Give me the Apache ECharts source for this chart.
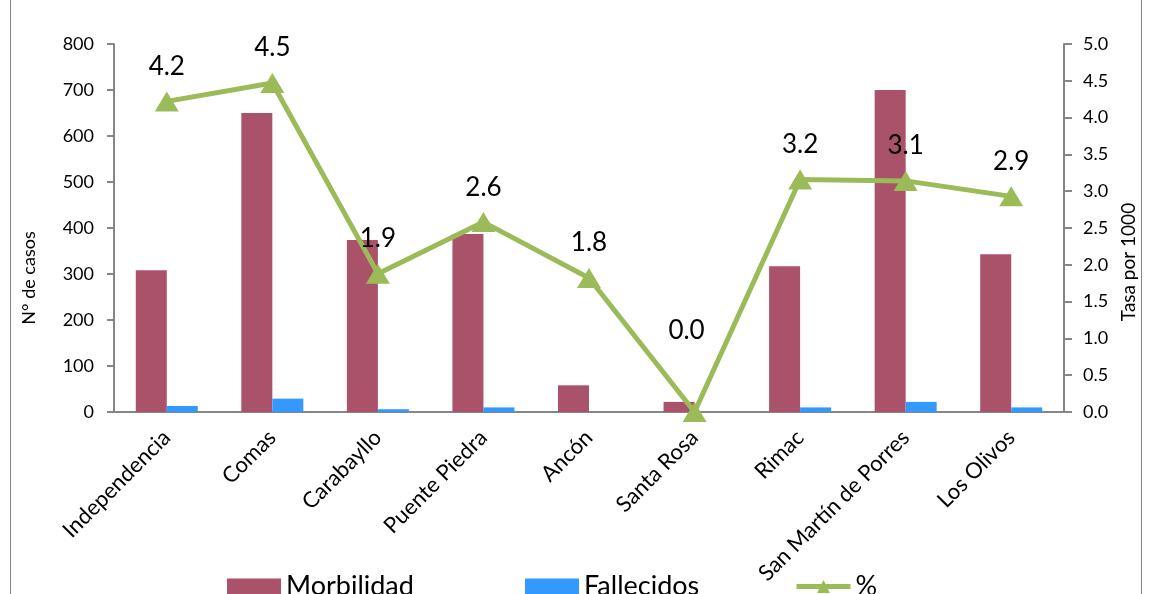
<!DOCTYPE html>
<html>
<head>
<meta charset="utf-8">
<script src="https://cdn.jsdelivr.net/npm/echarts@6/dist/echarts.min.js"></script>
<style>
  html, body { margin: 0; padding: 0; background: #fff; }
  #main { width: 1152px; height: 594px; }
</style>
</head>
<body>
<div id="main"></div>
<script>
// datos
var distritos = ["Independencia", "Comas", "Carabayllo", "Puente Piedra", "Ancón",
  "Santa Rosa", "Rimac", "San Martín de Porres", "Los Olivos"];
var morbilidad = [308, 650, 374, 387, 58, 22, 317, 700, 343];
var fallecidos = [13, 29, 6, 10, 0, 0, 10, 22, 10];
var tasa = [4.22, 4.47, 1.88, 2.58, 1.82, 0.0, 3.16, 3.14, 2.93];

var font = "Lato";
var gris = "#868686";
var verde = "#9BBB59";

function leyenda(nombre, x, icono) {
  return {
    left: x,
    top: 568,
    itemWidth: 54,
    itemHeight: 16,
    icon: icono,
    lineStyle: { width: 5 },
    textStyle: { fontSize: 27, color: "#000", fontFamily: font },
    data: [nombre]
  };
}

var myChart = echarts.init(document.getElementById("main"));
var option = {
  textStyle: { fontFamily: font },
  animation: false,
  graphic: [{
    type: "rect",
    shape: { x: 10.5, y: -10, width: 1131, height: 620 },
    style: { fill: "none", stroke: gris, lineWidth: 1 },
    silent: true
  }],
  legend: [
    leyenda("Morbilidad", 222, "rect"),
    leyenda("Fallecidos", 520, "rect"),
    leyenda("%", 789)
  ],
  grid: {
    left: 114,
    right: 88,
    top: 44,
    bottom: 182
  },
  xAxis: {
    type: "category",
    data: distritos,
    axisLine: { lineStyle: { color: gris, width: 2 } },
    axisTick: { length: 7, lineStyle: { color: gris, width: 2 } },
    axisLabel: {
      rotate: 45,
      margin: 22,
      fontSize: 22,
      color: "#000",
      interval: 0
    }
  },
  yAxis: [{
    type: "value",
    min: 0,
    max: 800,
    interval: 100,
    name: "N° de casos",
    nameLocation: "middle",
    nameRotate: 90,
    nameGap: 76,
    nameTextStyle: { fontSize: 18, color: "#000", padding: [0, 100, 0, 0] },
    splitLine: { show: false },
    axisLine: { show: true, lineStyle: { color: gris, width: 2 } },
    axisTick: { show: true, length: 7, lineStyle: { color: gris, width: 2 } },
    axisLabel: { fontSize: 18, color: "#000", margin: 20 }
  }, {
    type: "value",
    min: 0,
    max: 5,
    interval: 0.5,
    name: "Tasa por 1000",
    nameLocation: "middle",
    nameRotate: 90,
    nameGap: 54,
    nameTextStyle: { fontSize: 19, color: "#000", padding: [0, 68, 0, 0] },
    splitLine: { show: false },
    axisLine: { show: true, lineStyle: { color: gris, width: 2 } },
    axisTick: { show: true, length: 8, lineStyle: { color: gris, width: 2 } },
    axisLabel: {
      fontSize: 18,
      color: "#000",
      margin: 19,
      formatter: function (v) { return v.toFixed(1); }
    }
  }],
  series: [
    {
      name: "Morbilidad",
      type: "bar",
      data: morbilidad,
      barWidth: 31,
      barGap: "0%",
      itemStyle: { color: "#AA526A" }
    },
    {
      name: "Fallecidos",
      type: "bar",
      data: fallecidos,
      barWidth: 31,
      itemStyle: { color: "#3399FF" }
    },
    {
      name: "%",
      type: "line",
      yAxisIndex: 1,
      // la etiqueta de Santa Rosa queda mas arriba en el original
      data: tasa.map(function (v, i) {
        return i === 5 ? { value: v, label: { distance: 58, offset: [-8, 0] } } : v;
      }),
      symbol: "triangle",
      symbolSize: [24, 20],
      lineStyle: { color: verde, width: 5 },
      itemStyle: { color: verde },
      z: 5,
      label: {
        show: true,
        position: "top",
        distance: 12,
        fontSize: 26,
        color: "#000",
        formatter: function (p) { return p.value.toFixed(1); }
      }
    }
  ]
};
myChart.setOption(option);
</script>
</body>
</html>
